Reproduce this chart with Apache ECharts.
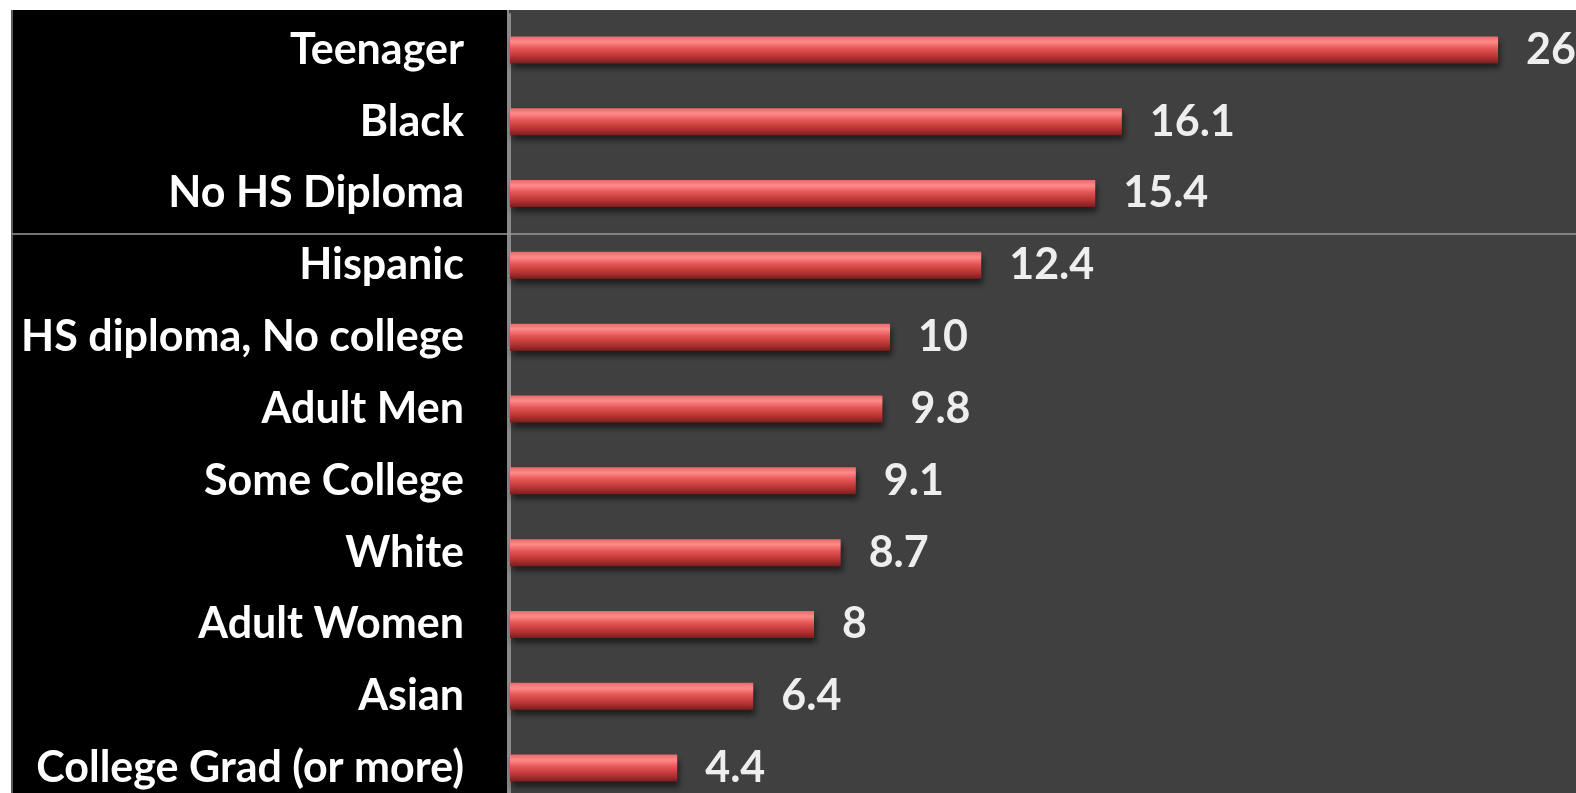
<!DOCTYPE html>
<html>
<head>
<meta charset="utf-8">
<script src="https://cdn.jsdelivr.net/npm/echarts@6/dist/echarts.min.js"></script>
<style>
html,body{margin:0;padding:0;background:#fff;}
#main{width:1576px;height:793px;}
</style>
</head>
<body>
<div id="main"></div>
<script>
var categories = ["Teenager","Black","No HS Diploma","Hispanic","HS diploma, No college","Adult Men","Some College","White","Adult Women","Asian","College Grad (or more)"];
var values = [26, 16.1, 15.4, 12.4, 10, 9.8, 9.1, 8.7, 8, 6.4, 4.4];

var chart = echarts.init(document.getElementById('main'));
var font = 'Lato, "Open Sans", sans-serif';
chart.setOption({
  animation: false,
  backgroundColor: '#ffffff',
  graphic: [
    {type:'rect', z:-10, shape:{x:12, y:10, width:498, height:783}, style:{fill:'#000000'}},
    {type:'rect', z:-10, shape:{x:508, y:10, width:1068, height:783}, style:{fill:'#404040'}},
    {type:'rect', z:-10, shape:{x:507, y:10, width:2, height:783}, style:{fill:'#8a8a8a'}},
    {type:'rect', z:-10, shape:{x:11, y:10, width:2, height:783}, style:{fill:'#5a5a5a'}},
    {type:'line', z:10, shape:{x1:12, y1:234, x2:1576, y2:234}, style:{stroke:'#9a9a9a', lineWidth:1.5}}
  ],
  grid: {
    left: 510, top: 14, width: 1066, height: 790,
    outerBoundsMode: 'none', containLabel: false,
    show: true, backgroundColor: '#404040', borderWidth: 0
  },
  xAxis: {
    type: 'value', min: 0, max: 28.05,
    show: false
  },
  yAxis: {
    type: 'category', data: categories, inverse: true,
    axisLine: {show: true, lineStyle: {color: '#8a8a8a', width: 2}},
    axisTick: {show: false},
    axisLabel: {color: '#ffffff', fontSize: 43, fontWeight: 'bold', fontFamily: font, margin: 46}
  },
  series: [{
    type: 'bar',
    data: values,
    barWidth: 27,
    itemStyle: {
      color: new echarts.graphic.LinearGradient(0,0,0,1,[
        {offset:0, color:'#e86a6a'},
        {offset:0.2, color:'#ff8a8a'},
        {offset:0.45, color:'#e55555'},
        {offset:0.75, color:'#b83434'},
        {offset:1, color:'#7a1e1e'}
      ]),
      shadowColor: 'rgba(0,0,0,0.55)',
      shadowBlur: 6,
      shadowOffsetY: 5,
      shadowOffsetX: 2
    },
    label: {
      show: true, position: 'right', distance: 28,
      color: '#eeeeee', fontSize: 43, fontWeight: 'bold', fontFamily: font
    }
  }]
});
</script>
</body>
</html>
